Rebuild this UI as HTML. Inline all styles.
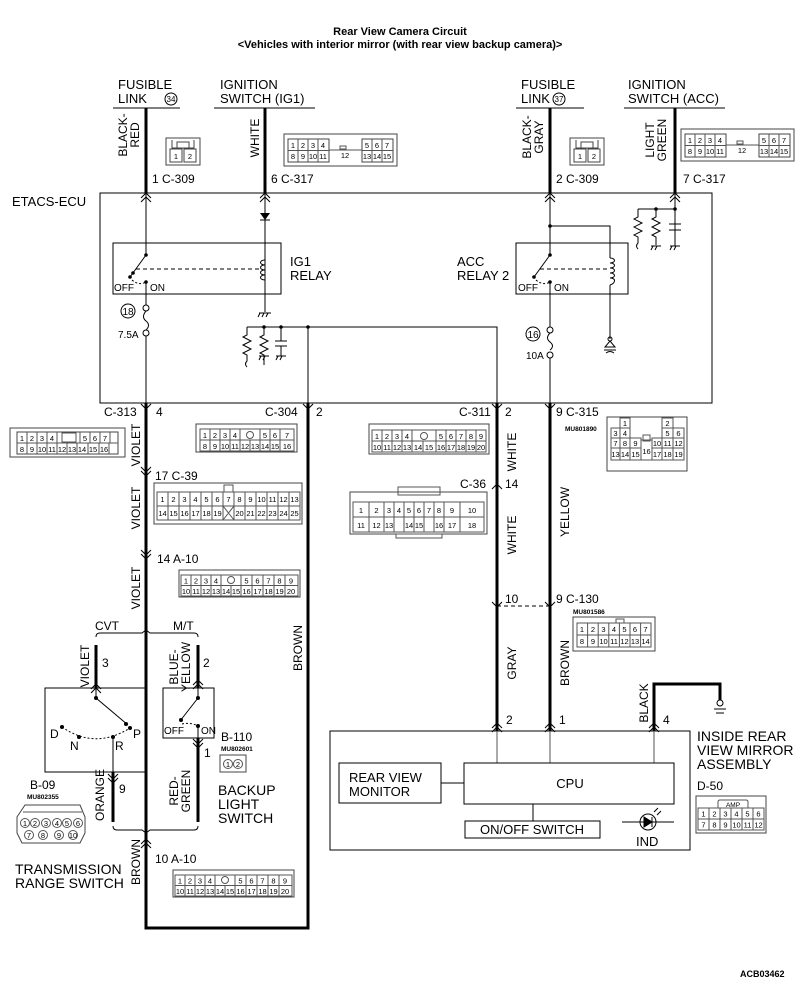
<!DOCTYPE html>
<html><head><meta charset="utf-8"><style>
html,body{margin:0;padding:0;background:#fff}
svg{display:block}
text{font-family:"Liberation Sans",sans-serif;fill:#000}
.t{font-size:13px}
.s{font-size:12px}
.p{font-size:7.5px;text-anchor:middle}
.m{font-size:6.5px;font-weight:bold}
.w{stroke:#000;stroke-width:3;fill:none}
.n{stroke:#000;stroke-width:1;fill:none}
.g{stroke:#555;stroke-width:1;fill:none}
.c{stroke:#444;stroke-width:1;fill:#fff}
</style></head><body>
<svg width="800" height="988" viewBox="0 0 800 988" xmlns="http://www.w3.org/2000/svg">
<text x="400" y="35" font-size="11" font-weight="bold" text-anchor="middle">Rear View Camera Circuit</text>
<text x="400" y="48" font-size="11" font-weight="bold" text-anchor="middle">&lt;Vehicles with interior mirror (with rear view backup camera)&gt;</text>

<!-- top sources -->
<text x="118" y="89" class="t">FUSIBLE</text><text x="118" y="103" class="t">LINK</text>
<circle cx="171" cy="99" r="6" class="n"/><text x="171" y="102" font-size="8" text-anchor="middle">34</text>
<line x1="113" y1="108" x2="180" y2="108" class="n" stroke-width="1.5"/>
<text x="220" y="89" class="t">IGNITION</text><text x="220" y="103" class="t">SWITCH (IG1)</text>
<line x1="214" y1="108" x2="315" y2="108" class="n" stroke-width="1.5"/>
<text x="521" y="89" class="t">FUSIBLE</text><text x="521" y="103" class="t">LINK</text>
<circle cx="559" cy="99" r="6" class="n"/><text x="559" y="102" font-size="8" text-anchor="middle">37</text>
<line x1="516" y1="108" x2="584" y2="108" class="n" stroke-width="1.5"/>
<text x="628" y="89" class="t">IGNITION</text><text x="628" y="103" class="t">SWITCH (ACC)</text>
<line x1="624" y1="108" x2="725" y2="108" class="n" stroke-width="1.5"/>

<line x1="146" y1="108" x2="146" y2="193" class="w"/>
<line x1="265" y1="108" x2="265" y2="193" class="w"/>
<line x1="550" y1="108" x2="550" y2="193" class="w"/>
<line x1="675" y1="108" x2="675" y2="193" class="w"/>
<text transform="translate(127,135) rotate(-90)" class="s" text-anchor="middle">BLACK-</text>
<text transform="translate(139,135) rotate(-90)" class="s" text-anchor="middle">RED</text>
<text transform="translate(259,138) rotate(-90)" class="s" text-anchor="middle">WHITE</text>
<text transform="translate(531,137) rotate(-90)" class="s" text-anchor="middle">BLACK-</text>
<text transform="translate(543,137) rotate(-90)" class="s" text-anchor="middle">GRAY</text>
<text transform="translate(654,140) rotate(-90)" class="s" text-anchor="middle">LIGHT</text>
<text transform="translate(666,140) rotate(-90)" class="s" text-anchor="middle">GREEN</text>
<text x="152" y="183" class="s">1 C-309</text>
<text x="271" y="183" class="s">6 C-317</text>
<text x="556" y="183" class="s">2 C-309</text>
<text x="683" y="183" class="s">7 C-317</text>

<!-- C-309 connectors -->
<g class="c"><rect x="166" y="138" width="34" height="27"/><path d="M172 140v8h22v-8M177 148v-6h12v6" fill="none"/><rect x="170" y="149" width="12" height="13"/><rect x="184" y="149" width="12" height="13"/></g>
<text x="176" y="159" class="p">1</text><text x="190" y="159" class="p">2</text>
<g class="c"><rect x="570" y="138" width="34" height="27"/><path d="M576 140v8h22v-8M581 148v-6h12v6" fill="none"/><rect x="574" y="149" width="12" height="13"/><rect x="588" y="149" width="12" height="13"/></g>
<text x="580" y="159" class="p">1</text><text x="594" y="159" class="p">2</text>

<!-- C-317 connectors -->
<g id="c317">
<rect x="284" y="134" width="113" height="32" class="c"/>
<rect x="288" y="139" width="41" height="23" class="c"/>
<path d="M288 150.5h41M298 139v23M308 139v23M318 139v23M329 150h33" class="g"/>
<rect x="362" y="139" width="31" height="23" class="c"/>
<path d="M362 150.5h31M372 139v23M382 139v23" class="g"/>
<rect x="340" y="146" width="6" height="3" class="g"/>
<text x="293" y="148" class="p">1</text><text x="303" y="148" class="p">2</text><text x="313" y="148" class="p">3</text><text x="323" y="148" class="p">4</text>
<text x="293" y="159" class="p">8</text><text x="303" y="159" class="p">9</text><text x="313" y="159" class="p">10</text><text x="323" y="159" class="p">11</text>
<text x="345" y="158" class="p">12</text>
<text x="367" y="148" class="p">5</text><text x="377" y="148" class="p">6</text><text x="387" y="148" class="p">7</text>
<text x="367" y="159" class="p">13</text><text x="377" y="159" class="p">14</text><text x="387" y="159" class="p">15</text>
</g>
<use href="#c317" transform="translate(397,-5)"/>

<!-- ETACS -->
<text x="12" y="206" class="t">ETACS-ECU</text>
<rect x="100" y="193" width="612" height="210" class="n"/>
<path d="M141 198l5-5l5 5M141 202l5-5l5 5M260 198l5-5l5 5M260 202l5-5l5 5M545 198l5-5l5 5M545 202l5-5l5 5M670 198l5-5l5 5M670 202l5-5l5 5" class="n"/>
<!-- IG1 relay -->
<line x1="146" y1="193" x2="146" y2="255" class="n"/>
<line x1="265" y1="193" x2="265" y2="312" class="n"/>
<path d="M260 213h10l-5 7z" fill="#000"/><line x1="260" y1="220" x2="270" y2="220" class="n"/>
<rect x="113" y="243" width="168" height="51" class="n"/>
<path d="M265 260c-6 0-6 5 0 5c-6 0-6 5 0 5c-6 0-6 5 0 5c-6 0-6 5 0 5" class="n"/>
<path d="M146 255L130 277" class="n"/><circle cx="146" cy="255" r="1.8"/><circle cx="130" cy="277" r="1.8"/><circle cx="133" cy="273" r="1.8"/>
<line x1="136" y1="269" x2="262" y2="269" stroke="#000" stroke-dasharray="4,3"/>
<path d="M132 280q7 6 14 2" class="n" stroke-dasharray="2,2"/><circle cx="146" cy="282" r="1.8"/>
<text x="114" y="291" font-size="10">OFF</text><text x="150" y="291" font-size="10">ON</text>
<text x="290" y="266" class="t">IG1</text><text x="290" y="280" class="t">RELAY</text>
<path d="M259 313h12M260 313l-2 4M264 313l-2 4M268 313l-2 4" class="n"/>
<line x1="146" y1="282" x2="146" y2="305" class="n"/>
<circle cx="146" cy="308" r="3" class="n"/><path d="M146 311q-5 6 0 10q5 4 0 9" class="n"/><circle cx="146" cy="333" r="3" class="n"/>
<line x1="146" y1="336" x2="146" y2="403" class="n"/>
<circle cx="128" cy="311" r="7" class="n"/><text x="128" y="315" font-size="10" text-anchor="middle">18</text>
<text x="118" y="338" font-size="10">7.5A</text>
<!-- RC network -->
<path d="M247 327H497V403M308 327V403M247 327v8l-4 2l8 4l-8 4l8 4l-8 4l4 2v6q-3 3 0 6M264 327v8l-4 2l8 4l-8 4l8 4l-8 4l4 2v10M281 327v14M275 341h12M275 346h12M281 346v10" class="n"/>
<circle cx="264" cy="327" r="1.8"/><circle cx="281" cy="327" r="1.8"/><circle cx="308" cy="327" r="1.8"/>
<path d="M259 356h10M261 356l-2 4M265 356l-2 4M276 356h10M278 356l-2 4M282 356l-2 4" class="n"/>
<!-- ACC relay -->
<line x1="550" y1="193" x2="550" y2="255" class="n"/>
<path d="M550 226H610V258M610 285V339" class="n"/><circle cx="550" cy="226" r="1.8"/>
<rect x="516" y="243" width="112" height="51" class="n"/>
<path d="M610 258c6 0 6 5 0 5c6 0 6 5 0 5c6 0 6 5 0 5c6 0 6 5 0 5c6 0 6 5 0 7" class="n"/>
<path d="M550 255L534 277" class="n"/><circle cx="550" cy="255" r="1.8"/><circle cx="534" cy="277" r="1.8"/>
<line x1="540" y1="269" x2="607" y2="269" stroke="#000" stroke-dasharray="4,3"/>
<path d="M536 280q7 6 14 2" class="n" stroke-dasharray="2,2"/><circle cx="550" cy="282" r="1.8"/>
<text x="518" y="291" font-size="10">OFF</text><text x="554" y="291" font-size="10">ON</text>
<text x="457" y="266" class="t">ACC</text><text x="457" y="280" class="t">RELAY 2</text>
<circle cx="610" cy="339" r="2" class="n"/><path d="M605 347h10l-5-6zM604 350h12M606 353q4-3 8 0" class="n"/>
<line x1="550" y1="282" x2="550" y2="327" class="n"/>
<circle cx="550" cy="330" r="3" class="n"/><path d="M550 333q-5 5 0 9q5 4 0 8" class="n"/><circle cx="550" cy="355" r="3" class="n"/>
<line x1="550" y1="358" x2="550" y2="403" class="n"/>
<circle cx="533" cy="334" r="7" class="n"/><text x="533" y="338" font-size="10" text-anchor="middle">16</text>
<text x="526" y="359" font-size="10">10A</text>
<path d="M675 193V246M638 209H675M638 209v8l-4 2l8 4l-8 4l8 4l-8 4l4 2v6q-3 3 0 6M656 209v8l-4 2l8 4l-8 4l8 4l-8 4l4 2v8M675 224h-6h12M669 230h12M675 230v14" class="n"/>
<circle cx="656" cy="209" r="1.8"/><circle cx="675" cy="209" r="1.8"/>
<path d="M651 246h10M653 246l-2 4M657 246l-2 4M670 246h10M672 246l-2 4M676 246l-2 4" class="n"/>

<!-- main wires -->
<path d="M146 403V928H308V403" class="w"/>
<line x1="497" y1="403" x2="497" y2="731" class="w"/>
<line x1="550" y1="403" x2="550" y2="731" class="w"/>
<path d="M141 404l5 5l5-5M303 404l5 5l5-5M492 404l5 5l5-5M545 404l5 5l5-5" class="n"/>
<text x="104" y="416" class="s">C-313</text><text x="156" y="416" class="s">4</text>
<text x="265" y="416" class="s">C-304</text><text x="316" y="416" class="s">2</text>
<text x="459" y="416" class="s">C-311</text><text x="505" y="416" class="s">2</text>
<text x="556" y="416" class="s">9 C-315</text><text x="565" y="431" class="m">MU801890</text>
<text transform="translate(140,445) rotate(-90)" class="s" text-anchor="middle">VIOLET</text>
<text transform="translate(140,508) rotate(-90)" class="s" text-anchor="middle">VIOLET</text>
<text transform="translate(140,588) rotate(-90)" class="s" text-anchor="middle">VIOLET</text>
<text transform="translate(302,648) rotate(-90)" class="s" text-anchor="middle">BROWN</text>
<text transform="translate(516,452) rotate(-90)" class="s" text-anchor="middle">WHITE</text>
<text transform="translate(516,535) rotate(-90)" class="s" text-anchor="middle">WHITE</text>
<text transform="translate(569,512) rotate(-90)" class="s" text-anchor="middle">YELLOW</text>
<text transform="translate(516,663) rotate(-90)" class="s" text-anchor="middle">GRAY</text>
<text transform="translate(569,663) rotate(-90)" class="s" text-anchor="middle">BROWN</text>
<path d="M141 467l5 5l5-5M141 471l5 5l5-5M141 550l5 5l5-5M141 554l5 5l5-5M492 489l5-5l5 5M492 602l5 5l5-5M545 602l5 5l5-5" class="n"/>
<text x="155" y="480" class="s">17 C-39</text>
<text x="157" y="563" class="s">14  A-10</text>
<text x="460" y="488" class="s">C-36</text><text x="505" y="488" class="s">14</text>
<text x="505" y="603" class="s">10</text>
<text x="556" y="603" class="s">9  C-130</text><text x="573" y="614" class="m">MU801586</text>
<line x1="497" y1="606" x2="550" y2="606" stroke="#000" stroke-dasharray="4,3"/>

<!-- C-313 connector -->
<rect x="10" y="428" width="115" height="29" class="c"/>
<rect x="17" y="432" width="101" height="22" class="c"/>
<path d="M17 443h101M27 432v11M37 432v11M47 432v11M57 432v11M80 432v11M90 432v11M100 432v11M110 432v11M27 443v11M37 443v11M47 443v11M57 443v11M67 443v11M77 443v11M88 443v11M99 443v11M109 443v11" class="g"/>
<rect x="62" y="433" width="14" height="9" class="g"/>
<text x="22" y="441" class="p">1</text><text x="32" y="441" class="p">2</text><text x="42" y="441" class="p">3</text><text x="52" y="441" class="p">4</text><text x="85" y="441" class="p">5</text><text x="95" y="441" class="p">6</text><text x="105" y="441" class="p">7</text>
<text x="22" y="452" class="p">8</text><text x="32" y="452" class="p">9</text><text x="42" y="452" class="p">10</text><text x="52" y="452" class="p">11</text><text x="62" y="452" class="p">12</text><text x="72" y="452" class="p">13</text><text x="82" y="452" class="p">14</text><text x="93" y="452" class="p">15</text><text x="104" y="452" class="p">16</text>

<!-- C-304 -->
<rect x="196" y="424" width="101" height="28" class="c"/>
<path d="M200 440h94M200 429h94v22h-94zM210 429v22M220 429v22M230 429v22M240 429v22M260 429v22M270 429v22M280 429v22M250 440v11" class="g"/>
<circle cx="250" cy="435" r="3.5" class="g"/>
<text x="205" y="438" class="p">1</text><text x="215" y="438" class="p">2</text><text x="225" y="438" class="p">3</text><text x="235" y="438" class="p">4</text><text x="265" y="438" class="p">5</text><text x="275" y="438" class="p">6</text><text x="287" y="438" class="p">7</text>
<text x="205" y="449" class="p">8</text><text x="215" y="449" class="p">9</text><text x="225" y="449" class="p">10</text><text x="235" y="449" class="p">11</text><text x="245" y="449" class="p">12</text><text x="255" y="449" class="p">13</text><text x="265" y="449" class="p">14</text><text x="275" y="449" class="p">15</text><text x="287" y="449" class="p">16</text>

<!-- C-39 -->
<rect x="154" y="483" width="148" height="41" class="c"/>
<path d="M157 492h143v28h-143zM157 506h143M168 492v28M179 492v28M190 492v28M201 492v28M212 492v28M223 492v28M234 492v28M245 492v28M256 492v28M267 492v28M278 492v28M289 492v28M223 506l11 14M234 506l-11 14" class="g"/>
<rect x="224" y="485" width="9" height="7" class="g"/>
<text x="162.5" y="502" class="p">1</text><text x="173.5" y="502" class="p">2</text><text x="184.5" y="502" class="p">3</text><text x="195.5" y="502" class="p">4</text><text x="206.5" y="502" class="p">5</text><text x="217.5" y="502" class="p">6</text><text x="228.5" y="502" class="p">7</text><text x="239.5" y="502" class="p">8</text><text x="250.5" y="502" class="p">9</text><text x="261.5" y="502" class="p">10</text><text x="272.5" y="502" class="p">11</text><text x="283.5" y="502" class="p">12</text><text x="294.5" y="502" class="p">13</text>
<text x="162.5" y="516" class="p">14</text><text x="173.5" y="516" class="p">15</text><text x="184.5" y="516" class="p">16</text><text x="195.5" y="516" class="p">17</text><text x="206.5" y="516" class="p">18</text><text x="217.5" y="516" class="p">19</text><text x="239.5" y="516" class="p">20</text><text x="250.5" y="516" class="p">21</text><text x="261.5" y="516" class="p">22</text><text x="272.5" y="516" class="p">23</text><text x="283.5" y="516" class="p">24</text><text x="294.5" y="516" class="p">25</text>

<!-- A-10 (x2) -->
<g id="a10">
<rect x="179" y="570" width="121" height="27" class="c"/>
<path d="M181 575h117v21h-117zM181 585.5h117M191 575v21M201 575v21M211 575v21M221 575v21M241 575v21M252 575v21M263 575v21M274 575v21M285 575v21M231 585v11" class="g"/>
<circle cx="231" cy="580" r="3.5" class="g"/>
<text x="186" y="583.5" class="p">1</text><text x="196" y="583.5" class="p">2</text><text x="206" y="583.5" class="p">3</text><text x="216" y="583.5" class="p">4</text><text x="246.5" y="583.5" class="p">5</text><text x="257.5" y="583.5" class="p">6</text><text x="268.5" y="583.5" class="p">7</text><text x="279.5" y="583.5" class="p">8</text><text x="291" y="583.5" class="p">9</text>
<text x="186" y="594" class="p">10</text><text x="196" y="594" class="p">11</text><text x="206" y="594" class="p">12</text><text x="216" y="594" class="p">13</text><text x="226" y="594" class="p">14</text><text x="236" y="594" class="p">15</text><text x="246.5" y="594" class="p">16</text><text x="257.5" y="594" class="p">17</text><text x="268.5" y="594" class="p">18</text><text x="279.5" y="594" class="p">19</text><text x="291" y="594" class="p">20</text>
</g>
<use href="#a10" transform="translate(-6,300)"/>

<!-- C-311 -->
<rect x="369" y="424" width="120" height="30" class="c"/>
<path d="M372 430h114v22h-114zM372 441h114M382 430v22M392 430v22M402 430v22M412 430v22M436 430v22M446 430v22M456 430v22M466 430v22M476 430v22M423 441v11" class="g"/>
<circle cx="424" cy="436" r="3.5" class="g"/>
<text x="377" y="439" class="p">1</text><text x="387" y="439" class="p">2</text><text x="397" y="439" class="p">3</text><text x="407" y="439" class="p">4</text><text x="441" y="439" class="p">5</text><text x="451" y="439" class="p">6</text><text x="461" y="439" class="p">7</text><text x="471" y="439" class="p">8</text><text x="481" y="439" class="p">9</text>
<text x="377" y="450" class="p">10</text><text x="387" y="450" class="p">11</text><text x="397" y="450" class="p">12</text><text x="407" y="450" class="p">13</text><text x="418" y="450" class="p">14</text><text x="429" y="450" class="p">15</text><text x="441" y="450" class="p">16</text><text x="451" y="450" class="p">17</text><text x="461" y="450" class="p">18</text><text x="471" y="450" class="p">19</text><text x="481" y="450" class="p">20</text>

<!-- C-36 -->
<rect x="350" y="492" width="137" height="42" class="c"/>
<rect x="398" y="487" width="42" height="8" class="g"/>
<rect x="396" y="534" width="46" height="4" class="g"/>
<path d="M353 502h131v30h-131zM353 517h131M369 502v30M384 502v30M394 502v15M404 502v15M414 502v30M424 502v15M434 502v15M444 502v30M460 502v30M394 517v15M404 517v15M424 517v15M434 517v15" class="g"/>
<text x="361" y="513" class="p">1</text><text x="376.5" y="513" class="p">2</text><text x="389" y="513" class="p">3</text><text x="399" y="513" class="p">4</text><text x="409" y="513" class="p">5</text><text x="419" y="513" class="p">6</text><text x="429" y="513" class="p">7</text><text x="439" y="513" class="p">8</text><text x="452" y="513" class="p">9</text><text x="472" y="513" class="p">10</text>
<text x="361" y="528" class="p">11</text><text x="376.5" y="528" class="p">12</text><text x="389" y="528" class="p">13</text><text x="409" y="528" class="p">14</text><text x="419" y="528" class="p">15</text><text x="439" y="528" class="p">16</text><text x="452" y="528" class="p">17</text><text x="472" y="528" class="p">18</text>

<!-- C-315 -->
<rect x="607" y="417" width="80" height="54" class="c"/>
<path d="M620 418h10v10h-10zM662 418h11v10h-11zM611 428h19v10h-19zM620 428v10M662 428h22v10h-22zM673 428v10M611 438h30v22h-30zM611 448h30M620 438v22M630 438v22M652 438h32v22h-32zM652 448h32M662 438v22M673 438v22M641 440h11v20h-11" class="g"/>
<rect x="643" y="435" width="7" height="6" class="g"/>
<text x="625" y="426" class="p">1</text><text x="667.5" y="426" class="p">2</text>
<text x="615.5" y="436" class="p">3</text><text x="625" y="436" class="p">4</text><text x="667.5" y="436" class="p">5</text><text x="678.5" y="436" class="p">6</text>
<text x="615.5" y="446" class="p">7</text><text x="625" y="446" class="p">8</text><text x="635.5" y="446" class="p">9</text><text x="657" y="446" class="p">10</text><text x="667.5" y="446" class="p">11</text><text x="678.5" y="446" class="p">12</text>
<text x="615.5" y="457" class="p">13</text><text x="625" y="457" class="p">14</text><text x="635.5" y="457" class="p">15</text><text x="646.5" y="454" class="p">16</text><text x="657" y="457" class="p">17</text><text x="667.5" y="457" class="p">18</text><text x="678.5" y="457" class="p">19</text>

<!-- C-130 -->
<rect x="573" y="617" width="82" height="34" class="c"/>
<rect x="616" y="619" width="8" height="4" class="g"/>
<path d="M577 623h74v24h-74zM577 635h74M587.6 623v24M598.2 623v24M608.8 623v24M619.4 623v24M630 623v24M640.6 623v24" class="g"/>
<text x="582" y="632" class="p">1</text><text x="593" y="632" class="p">2</text><text x="603.5" y="632" class="p">3</text><text x="614" y="632" class="p">4</text><text x="624.5" y="632" class="p">5</text><text x="635" y="632" class="p">6</text><text x="645.5" y="632" class="p">7</text>
<text x="582" y="644" class="p">8</text><text x="593" y="644" class="p">9</text><text x="603.5" y="644" class="p">10</text><text x="614" y="644" class="p">11</text><text x="624.5" y="644" class="p">12</text><text x="635" y="644" class="p">13</text><text x="645.5" y="644" class="p">14</text>

<!-- CVT / MT -->
<text x="95" y="630" class="s">CVT</text><text x="173" y="630" class="s">M/T</text>
<path d="M96 637q0-4 4-4H142l4-3l4 3H194q4 0 4 4" class="n"/>
<line x1="96" y1="645" x2="96" y2="688" class="w"/>
<line x1="198" y1="645" x2="198" y2="688" class="w"/>
<text transform="translate(89,666) rotate(-90)" class="s" text-anchor="middle">VIOLET</text>
<text transform="translate(178,667) rotate(-90)" class="s" text-anchor="middle">BLUE-</text>
<text transform="translate(190,667) rotate(-90)" class="s" text-anchor="middle">YELLOW</text>
<text x="102" y="667" class="s">3</text><text x="203" y="667" class="s">2</text>
<path d="M91 689l5-5l5 5M91 693l5-5l5 5M193 685l5-5l5 5M193 689l5-5l5 5" class="n"/>
<!-- transmission range switch -->
<rect x="45" y="688" width="101" height="84" class="n"/>
<path d="M96 688V698L128 725M113 737V772" class="n"/>
<circle cx="96" cy="698" r="2"/><circle cx="126" cy="724" r="2"/><circle cx="130" cy="728" r="2"/><circle cx="62" cy="727" r="2"/><circle cx="79" cy="737" r="2"/><circle cx="113" cy="737" r="2"/>
<path d="M62 727Q95 750 130 728" class="n" stroke-dasharray="2,2"/>
<text x="50" y="738" class="s">D</text><text x="70" y="750" class="s">N</text><text x="115" y="750" class="s">R</text><text x="133" y="738" class="s">P</text>
<line x1="113" y1="772" x2="113" y2="822" class="w"/>
<path d="M108 774l5 5l5-5M108 778l5 5l5-5" class="n"/>
<text x="119" y="793" class="s">9</text>
<text transform="translate(104,795) rotate(-90)" class="s" text-anchor="middle">ORANGE</text>
<!-- backup light switch -->
<rect x="163" y="688" width="51" height="50" class="n"/>
<path d="M198 688V698L180 721M198 726V738" class="n"/>
<circle cx="198" cy="698" r="2"/><circle cx="181" cy="720" r="2"/><circle cx="198" cy="726" r="2"/>
<path d="M182 724q8-2 16 2" class="n" stroke-dasharray="2,2"/>
<text x="164" y="734" font-size="10">OFF</text><text x="201" y="734" font-size="10">ON</text>
<line x1="198" y1="738" x2="198" y2="822" class="w"/>
<path d="M193 739l5 5l5-5M193 743l5 5l5-5" class="n"/>
<text x="204" y="757" class="s">1</text>
<text transform="translate(178,791) rotate(-90)" class="s" text-anchor="middle">RED-</text>
<text transform="translate(190,791) rotate(-90)" class="s" text-anchor="middle">GREEN</text>
<text x="221" y="741" class="s">B-110</text><text x="221" y="751" class="m">MU802601</text>
<rect x="220" y="755" width="26" height="17" class="c"/>
<circle cx="228" cy="764" r="4.5" class="g"/><circle cx="238" cy="764" r="4.5" class="g"/>
<text x="228" y="767" class="p">1</text><text x="238" y="767" class="p">2</text>
<text x="218" y="795" font-size="14">BACKUP</text><text x="218" y="809" font-size="14">LIGHT</text><text x="218" y="823" font-size="14">SWITCH</text>
<path d="M113 826q0 4 4 4H142l4 3l4-3H194q4 0 4-4" class="n"/>
<path d="M141 844l5-5l5 5M141 848l5-5l5 5" class="n"/>
<text x="155" y="863" class="s">10  A-10</text>
<text transform="translate(140,862) rotate(-90)" class="s" text-anchor="middle">BROWN</text>
<!-- B-09 -->
<text x="30" y="789" class="s">B-09</text><text x="27" y="799" class="m">MU802355</text>
<path d="M25 805h55l5 12v16l-5 10H22l-5-10v-16z" class="c"/>
<path d="M23 812h59" class="g"/>
<g class="g"><circle cx="25" cy="823" r="4.5"/><circle cx="35" cy="823" r="4.5"/><circle cx="46" cy="823" r="4.5"/><circle cx="57" cy="823" r="4.5"/><circle cx="67" cy="823" r="4.5"/><circle cx="78" cy="823" r="4.5"/><circle cx="29" cy="835" r="4.5"/><circle cx="43" cy="835" r="4.5"/><circle cx="59" cy="835" r="4.5"/><circle cx="73" cy="835" r="4.5"/></g>
<text x="25" y="826" class="p">1</text><text x="35" y="826" class="p">2</text><text x="46" y="826" class="p">3</text><text x="57" y="826" class="p">4</text><text x="67" y="826" class="p">5</text><text x="78" y="826" class="p">6</text><text x="29" y="838" class="p">7</text><text x="43" y="838" class="p">8</text><text x="59" y="838" class="p">9</text><text x="73" y="838" class="p">10</text>
<text x="15" y="874" font-size="14">TRANSMISSION</text><text x="15" y="888" font-size="14">RANGE SWITCH</text>

<!-- mirror assembly -->
<rect x="330" y="731" width="360" height="119" class="n"/>
<path d="M654 731V684H720V700" class="w"/>
<circle cx="720" cy="703" r="3" class="n"/><path d="M714 709h12M716 713h8" class="n"/>
<path d="M492 728l5-5l5 5M492 732l5-5l5 5M545 728l5-5l5 5M545 732l5-5l5 5M649 728l5-5l5 5M649 732l5-5l5 5" class="n"/>
<text x="506" y="724" class="s">2</text><text x="559" y="724" class="s">1</text><text x="663" y="724" class="s">4</text>
<text transform="translate(648,703) rotate(-90)" class="s" text-anchor="middle">BLACK</text>
<path d="M497 731V763M550 731V763M654 731V763" class="g"/>
<rect x="339" y="763" width="102" height="40" class="n"/>
<text x="349" y="782" font-size="13">REAR VIEW</text><text x="349" y="796" font-size="13">MONITOR</text>
<line x1="441" y1="783" x2="464" y2="783" class="n"/>
<rect x="464" y="763" width="210" height="41" class="n"/>
<text x="570" y="788" font-size="13" text-anchor="middle">CPU</text>
<line x1="533" y1="804" x2="533" y2="821" class="n"/>
<rect x="465" y="821" width="135" height="17" class="n"/>
<text x="532" y="834" font-size="13" text-anchor="middle">ON/OFF SWITCH</text>
<circle cx="648" cy="822" r="8" class="n"/>
<path d="M622 822h52M644 817v10l8-5zM652 817v10" class="n"/><path d="M644 817v10l8-5z" fill="#000"/>
<path d="M654 812l4-4M657 815l4-4" class="n"/>
<text x="636" y="846" font-size="13">IND</text>
<text x="697" y="741" font-size="14">INSIDE REAR</text><text x="697" y="755" font-size="14">VIEW MIRROR</text><text x="697" y="769" font-size="14">ASSEMBLY</text>
<text x="697" y="790" class="s">D-50</text>
<rect x="696" y="796" width="70" height="37" class="c"/>
<path d="M718 808v-6q0-2 2-2h26q2 0 2 2v6" class="g"/>
<text x="733" y="807" font-size="6.5" text-anchor="middle">AMP</text>
<path d="M698 808h66v22h-66zM698 819h66M709 808v22M720 808v22M731 808v22M742 808v22M753 808v22" class="g"/>
<text x="703.5" y="816.5" class="p">1</text><text x="714.5" y="816.5" class="p">2</text><text x="725.5" y="816.5" class="p">3</text><text x="736.5" y="816.5" class="p">4</text><text x="747.5" y="816.5" class="p">5</text><text x="758.5" y="816.5" class="p">6</text>
<text x="703.5" y="827.5" class="p">7</text><text x="714.5" y="827.5" class="p">8</text><text x="725.5" y="827.5" class="p">9</text><text x="736.5" y="827.5" class="p">10</text><text x="747.5" y="827.5" class="p">11</text><text x="758.5" y="827.5" class="p">12</text>

<text x="740" y="977" font-size="9" font-weight="bold">ACB03462</text>
</svg>
</body></html>
